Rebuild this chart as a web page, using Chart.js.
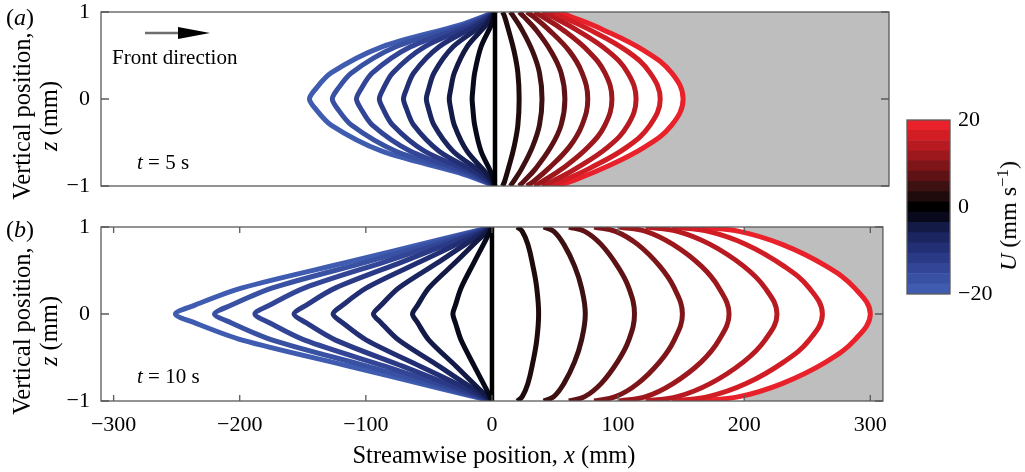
<!DOCTYPE html>
<html>
<head>
<meta charset="utf-8">
<script src="https://cdn.jsdelivr.net/npm/chart.js@4.4.0/dist/chart.umd.min.js"></script>
<style>
  body { margin: 0; background: #fff; }
  #wrap { position: relative; width: 1025px; height: 472px; font-family: 'Liberation Serif', 'Times New Roman', serif; color: #000; }
  canvas { position: absolute; }
  .lbl { position: absolute; white-space: nowrap; line-height: 1; }
  .lbl sup { font-size: 0.7em; vertical-align: 0.45em; line-height: 0; }
  .ytitle { position: absolute; white-space: nowrap; line-height: 1; font-size: 24.5px; transform: translate(-50%, -50%) rotate(-90deg); }
</style>
</head>
<body>
<div id="wrap">
  <canvas id="chartA" width="900" height="205" style="left:0;top:0"></canvas>
  <canvas id="chartB" width="900" height="267" style="left:0;top:205px"></canvas>
  <canvas id="cbar" width="130" height="215" style="left:895px;top:100px"></canvas>

  <div class="lbl" style="left:6px;top:5px;font-size:24px">(<i>a</i>)</div>
  <div class="lbl" style="left:6px;top:217px;font-size:24px">(<i>b</i>)</div>
  <div class="ytitle" style="left:22px;top:116px">Vertical position,</div>
  <div class="ytitle" style="left:49px;top:116px"><i>z</i> (mm)</div>
  <div class="ytitle" style="left:22px;top:331px">Vertical position,</div>
  <div class="ytitle" style="left:49px;top:331px"><i>z</i> (mm)</div>
  <div class="lbl" style="left:494px;top:443px;font-size:24.5px;transform:translateX(-50%)">Streamwise position, <i>x</i> (mm)</div>

  <svg class="lbl" style="left:140px;top:24px" width="75" height="20">
    <line x1="5" y1="9" x2="40" y2="9" stroke="#6e6e6e" stroke-width="2.5"/>
    <polygon points="38,3 70,9 38,15" fill="#000"/>
  </svg>
  <div class="lbl" style="left:112px;top:47px;font-size:21px">Front direction</div>
  <div class="lbl" style="left:137px;top:152px;font-size:21px"><i>t</i> = 5 s</div>
  <div class="lbl" style="left:137px;top:366px;font-size:21px"><i>t</i> = 10 s</div>
  <div class="lbl" style="left:1008px;top:216px;font-size:24px;transform:translate(-50%,-50%) rotate(-90deg)"><i>U</i> (mm s<sup>&minus;1</sup>)</div>
</div>

<script>
// profile velocity levels (mm/s) and their colours, blue -> black -> red
const uLevels = [-20, -17.5, -15, -12.5, -10, -7.5, -5, -2.5, 0, 2.5, 5, 7.5, 10, 12.5, 15, 17.5, 20];
const uColors = ['#3f5cb0', '#3951a3', '#324596', '#2b3a87', '#232f75', '#1b2560', '#121a45', '#080a1c', '#000000',
                 '#1f0b0b', '#3d1011', '#5e1215', '#7e1519', '#9d181d', '#b81a21', '#d21d25', '#e9212a'];

// vertical positions z (mm) where the profiles were read
const zBlue = [1, 0.85, 0.6, 0.3, 0.1, 0, -0.1, -0.3, -0.6, -0.85, -1];
const zRed = [1, 0.95, 0.8, 0.55, 0.3, 0, -0.3, -0.55, -0.8, -0.95, -1];
const zWall = [1, -1];
const xWall = [0, 0]; // U = 0 profile

// (a) t = 5 s, x (mm) of each profile
const blueXa = [ // U = -2.5 ... -20
  [0, -3, -11, -16, -17.5, -18, -17.5, -16, -11, -3, 0],
  [0, -7, -22, -32, -35, -36, -35, -32, -22, -7, 0],
  [0, -10, -33, -48, -52.5, -54, -52.5, -48, -33, -10, 0],
  [0, -14, -44, -64, -70, -72, -70, -64, -44, -14, 0],
  [0, -17, -55.5, -80.5, -88.5, -91, -88.5, -80.5, -55.5, -17, 0],
  [0, -21, -66.5, -96.5, -106, -109, -106, -96.5, -66.5, -21, 0],
  [0, -24, -78, -113, -124.5, -128, -124.5, -113, -78, -24, 0],
  [0, -28, -89, -129, -142, -146, -142, -129, -89, -28, 0]
];
const redXa = [ // U = 2.5 ... 20
  [6, 7.5, 10.5, 15, 18, 19, 18, 15, 10.5, 7.5, 6],
  [12, 14.5, 21, 29.5, 35, 37, 35, 29.5, 21, 14.5, 12],
  [19, 22.5, 32, 44, 52, 55, 52, 44, 32, 22.5, 19],
  [25, 30, 42, 58.5, 68.5, 73, 68.5, 58.5, 42, 30, 25],
  [31, 37, 53, 73.5, 86.5, 92, 86.5, 73.5, 53, 37, 31],
  [37, 44.5, 63.5, 89, 104.5, 111, 104.5, 89, 63.5, 44.5, 37],
  [43, 51.5, 74, 104, 122, 130, 122, 104, 74, 51.5, 43],
  [49, 59, 84.5, 118, 139, 148, 139, 118, 84.5, 59, 49]
];
const grayXa = [49, 59, 84.5, 118, 139, 148, 139, 118, 84.5, 59, 49]; // left edge of grey zone (on zRed)

// (b) t = 10 s
const blueXb = [
  [0, -5, -14, -24.5, -29, -31, -29, -24.5, -14, -5, 0],
  [0, -11, -28.5, -50, -59, -63, -59, -50, -28.5, -11, 0],
  [0, -16, -42, -74, -88, -94, -88, -74, -42, -16, 0],
  [0, -21, -57, -99.5, -118.5, -126, -118.5, -99.5, -57, -21, 0],
  [0, -27, -71, -124, -147.5, -157, -147.5, -124, -71, -27, 0],
  [0, -32, -85, -148.5, -176.5, -188, -176.5, -148.5, -85, -32, 0],
  [0, -37.5, -99, -174, -207, -220, -207, -174, -99, -37.5, 0],
  [0, -42.5, -113, -198, -236, -251, -236, -198, -113, -42.5, 0]
];
const redXb = [
  [20, 24, 28.5, 32.5, 35.5, 37, 35.5, 32.5, 28.5, 24, 20],
  [41, 49, 57, 65.5, 71, 74, 71, 65.5, 57, 49, 41],
  [61, 73.5, 86.5, 99.5, 108.5, 113, 108.5, 99.5, 86.5, 73.5, 61],
  [81, 98, 115.5, 133, 144.5, 151, 144.5, 133, 115.5, 98, 81],
  [101, 122, 143.5, 166, 180, 188, 180, 166, 143.5, 122, 101],
  [122, 147, 173, 199.5, 216.5, 226, 216.5, 199.5, 173, 147, 122],
  [143, 171.5, 201.5, 231.5, 251.5, 262, 251.5, 231.5, 201.5, 171.5, 143],
  [163, 196, 230, 265, 287.5, 300, 287.5, 265, 230, 196, 163]
];
const grayXb = [200, 200, 230, 265, 287.5, 300, 287.5, 265, 230, 200, 200];

const xTicks = [-300, -200, -100, 0, 100, 200, 300];
const zTicks = [-1, 0, 1];
const uTicks = [-20, 0, 20];

Chart.defaults.font.family = "'Liberation Serif', 'Times New Roman', serif";
Chart.defaults.color = '#000';

function pts(xs, zs) {
  return xs.map((x, i) => ({ x: x, y: zs[i] }));
}
function minus(v) {
  return v < 0 ? '\u2212' + Math.abs(v) : String(v);
}
// fixed axis width, no extra room asked for the end labels
function fixWidth(w) {
  return s => { s.width = w; s.paddingTop = 0; s.paddingBottom = 0; };
}

// box round the plot + small inward ticks
const framePlugin = {
  id: 'frame',
  afterDatasetsDraw(chart, args, opts) {
    const { ctx, chartArea: a, scales } = chart;
    ctx.save();
    ctx.strokeStyle = '#5a5a5a';
    ctx.lineWidth = 1.3;
    ctx.strokeRect(a.left, a.top, a.right - a.left, a.bottom - a.top);
    ctx.beginPath();
    (opts.xTicks || []).forEach(v => {
      const px = scales.x.getPixelForValue(v);
      ctx.moveTo(px, a.top); ctx.lineTo(px, a.top + 6);
      ctx.moveTo(px, a.bottom); ctx.lineTo(px, a.bottom - 6);
    });
    (opts.zTicks || []).forEach(v => {
      const py = scales.y.getPixelForValue(v);
      ctx.moveTo(a.left, py); ctx.lineTo(a.left + 8, py);
      ctx.moveTo(a.right, py); ctx.lineTo(a.right - 8, py);
    });
    ctx.stroke();
    ctx.restore();
  }
};

function profiles(blueX, redX, grayX) {
  const sets = [{ data: pts(xWall, zWall), borderColor: uColors[8], borderWidth: 4.5, tension: 0 }];
  redX.forEach((xs, k) => sets.push({ data: pts(xs, zRed), borderColor: uColors[9 + k], borderWidth: 5 }));
  blueX.forEach((xs, k) => sets.push({ data: pts(xs, zBlue), borderColor: uColors[7 - k], borderWidth: 5, tension: 0.3 }));
  // grey zone ahead of the front: filled from its edge to the right end of the axis
  sets.push({ data: pts(grayX, zRed), borderWidth: 0, backgroundColor: '#bebebe', fill: { value: 310 } });
  return sets;
}

function panel(id, blueX, redX, grayX, withX) {
  return new Chart(document.getElementById(id), {
    type: 'line',
    data: { datasets: profiles(blueX, redX, grayX) },
    options: {
      indexAxis: 'y',
      responsive: false,
      animation: false,
      events: [],
      layout: {
        autoPadding: false,
        padding: withX ? { left: 0, top: 22, right: 11, bottom: 3 } : { left: 0, top: 12, right: 11, bottom: 19 }
      },
      elements: { point: { radius: 0 }, line: { tension: 0.4, borderCapStyle: 'butt' } },
      plugins: {
        legend: { display: false },
        tooltip: { enabled: false },
        frame: { xTicks: withX ? xTicks : [], zTicks: zTicks }
      },
      scales: {
        x: {
          type: 'linear', min: -310, max: 310, display: withX,
          afterBuildTicks: s => { s.ticks = xTicks.map(v => ({ value: v })); },
          afterFit: s => { s.height = withX ? 68 : 0; },
          grid: { display: false, drawTicks: false }, border: { display: false },
          ticks: { padding: 13, font: { size: 22, lineHeight: 1 }, callback: v => minus(v) }
        },
        y: {
          type: 'linear', min: -1, max: 1,
          afterBuildTicks: s => { s.ticks = zTicks.map(v => ({ value: v })); },
          afterFit: fixWidth(101),
          grid: { display: false, drawTicks: false }, border: { display: false },
          ticks: { padding: 11, font: { size: 22, lineHeight: 1 }, callback: v => minus(v) }
        }
      }
    },
    plugins: [framePlugin]
  });
}

panel('chartA', blueXa, redXa, grayXa, false);
panel('chartB', blueXb, redXb, grayXb, true);

// colour bar: one band per level, equal heights between -20 and 20
const bandEdges = uLevels.map((u, i) => -20 + i * 40 / uLevels.length).concat([20]);
new Chart(document.getElementById('cbar'), {
  type: 'bar',
  data: {
    labels: [''],
    datasets: uLevels.map((u, i) => ({
      data: [[bandEdges[i], bandEdges[i + 1]]],
      backgroundColor: uColors[i],
      borderWidth: 0,
      grouped: false,
      barPercentage: 1,
      categoryPercentage: 1
    }))
  },
  options: {
    responsive: false,
    animation: false,
    events: [],
    layout: { autoPadding: false, padding: { left: 12, top: 20, right: 0, bottom: 21 } },
    plugins: { legend: { display: false }, tooltip: { enabled: false }, frame: {} },
    scales: {
      x: { display: false },
      y: {
        position: 'right', min: -20, max: 20,
        afterBuildTicks: s => { s.ticks = uTicks.map(v => ({ value: v })); },
        afterFit: fixWidth(75),
        grid: { display: false, drawTicks: false }, border: { display: false },
        ticks: { padding: 8, font: { size: 22, lineHeight: 1 }, callback: v => minus(v) }
      }
    }
  },
  plugins: [framePlugin]
});
</script>
</body>
</html>
